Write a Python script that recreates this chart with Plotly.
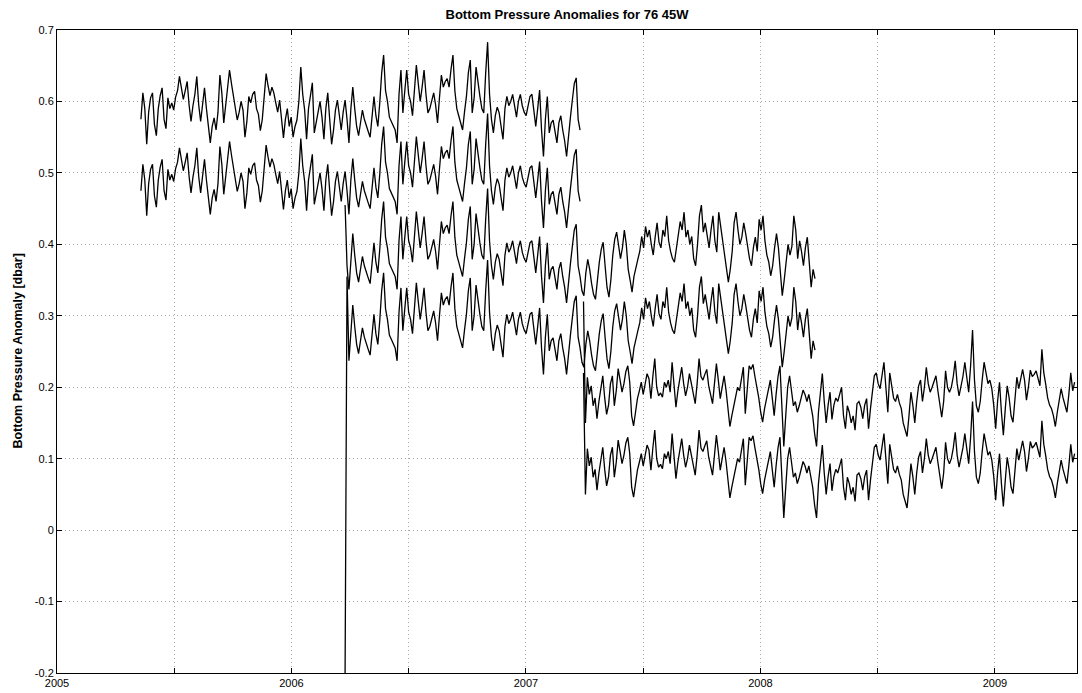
import numpy as np
import plotly.graph_objects as go

# ---------------- data (bottom pressure anomaly, millidbar) ----------------
# Sampling: one value every STEP_DAYS days from each deployment's start (decimal year)
STEP_DAYS = 3
start_A = 2005.358
start_B = 2006.2286
start_C = 2007.2454

dep_A_upper_mdbar = [
    575, 612, 590, 540, 585, 605, 612, 568, 552, 590,
    608, 619, 575, 562, 605, 590, 598, 588, 606, 615,
    635, 618, 603, 615, 628, 595, 572, 594, 610, 635,
    595, 572, 600, 619, 590, 568, 542, 565, 577, 560,
    585, 637, 612, 570, 598, 620, 644, 625, 607, 592,
    574, 585, 600, 588, 550, 572, 607, 598, 610, 614,
    590, 582, 559, 575, 605, 639, 622, 608, 620, 612,
    598, 585, 602, 570, 549, 575, 590, 565, 578, 550,
    565, 574, 600, 648, 610, 588, 547, 590, 612, 626,
    556, 572, 584, 600, 578, 547, 590, 612, 575, 540,
    560, 588, 602, 580, 560, 585, 602, 575, 542, 590,
    620, 590, 565, 552, 570, 588, 575, 565, 558, 550,
    585, 607, 580, 565, 598, 640, 665, 615, 600, 578,
    572, 565, 560, 542, 610, 644, 584, 615, 644, 610,
    600, 580, 610, 651, 625, 600, 620, 644, 610, 584,
    590, 600, 612, 595, 570, 605, 637, 620, 628, 632,
    620, 645, 665, 615, 590, 580, 570, 560, 585, 607,
    640, 658, 584, 605, 648, 625, 607, 590, 584, 640,
    683, 610, 575, 556, 580, 592, 584, 565, 547, 590,
    607, 594, 600, 610, 592, 578, 600, 610, 594, 585,
    580, 595, 607, 610, 590, 565, 590, 616, 560, 523,
    575, 607, 556, 570, 574, 560, 542, 570, 580, 560,
    545, 523, 555, 578, 602, 625, 633, 575, 560,
]
dep_A_lower_mdbar = [
    475, 512, 490, 440, 485, 505, 512, 468, 452, 490,
    508, 519, 475, 462, 505, 490, 498, 488, 506, 515,
    535, 518, 503, 515, 528, 495, 472, 494, 510, 535,
    495, 472, 500, 519, 490, 468, 442, 465, 477, 460,
    485, 537, 512, 470, 498, 520, 544, 525, 507, 492,
    474, 485, 500, 488, 450, 472, 507, 498, 510, 514,
    490, 482, 459, 475, 505, 539, 522, 508, 520, 512,
    498, 485, 502, 470, 449, 475, 490, 465, 478, 450,
    465, 474, 500, 548, 510, 488, 447, 490, 512, 526,
    456, 472, 484, 500, 478, 447, 490, 512, 475, 440,
    460, 488, 502, 480, 460, 485, 502, 475, 442, 490,
    520, 490, 465, 452, 470, 488, 475, 465, 458, 450,
    485, 507, 480, 465, 498, 540, 565, 515, 500, 478,
    472, 465, 460, 442, 510, 544, 484, 515, 544, 510,
    500, 480, 510, 551, 525, 500, 520, 544, 510, 484,
    490, 500, 512, 495, 470, 505, 537, 520, 528, 532,
    520, 545, 565, 515, 490, 480, 470, 460, 485, 507,
    540, 558, 484, 505, 548, 525, 507, 490, 484, 540,
    583, 510, 475, 456, 480, 492, 484, 465, 447, 490,
    507, 494, 500, 510, 492, 478, 500, 510, 494, 485,
    480, 495, 507, 510, 490, 465, 490, 516, 460, 423,
    475, 507, 456, 470, 474, 460, 442, 470, 480, 460,
    445, 423, 455, 478, 502, 525, 533, 475, 460,
]

dep_B_upper_mdbar = [
    455, 370, 337, 385,
    415, 385, 360, 347, 365, 383, 370, 360, 353, 345,
    380, 402, 375, 360, 393, 435, 460, 410, 395, 373,
    367, 360, 355, 337, 405, 439, 379, 410, 439, 405,
    395, 375, 405, 446, 420, 395, 415, 439, 405, 379,
    385, 395, 407, 390, 365, 400, 432, 415, 423, 427,
    415, 440, 460, 410, 385, 375, 365, 355, 380, 402,
    435, 453, 379, 400, 443, 420, 402, 385, 379, 435,
    478, 405, 370, 351, 375, 387, 379, 360, 342, 385,
    402, 389, 395, 405, 387, 373, 395, 405, 389, 380,
    375, 390, 402, 405, 385, 360, 385, 411, 355, 318,
    370, 402, 351, 365, 369, 355, 337, 365, 375, 355,
    340, 318, 350, 373, 397, 420, 428, 370, 355,
    335, 328, 360, 379, 365, 345, 330, 323, 350, 375,
    393, 403, 370, 340, 326, 350, 385, 407, 417, 400,
    380, 395, 420, 400, 365, 350, 333, 355, 365, 379,
    390, 411, 395, 425, 410, 420, 400, 385, 410, 430,
    403, 395, 420, 411, 440, 405, 390, 380, 375, 395,
    410, 432, 420, 445, 410, 420, 400, 411, 380, 370,
    400, 440, 455, 417, 430, 410, 395, 420, 440, 405,
    389, 445, 425, 400, 380, 360, 347, 365, 390, 430,
    445, 420, 400, 410, 430, 415, 395, 380, 370, 395,
    410, 390, 435, 420, 440, 405, 385, 375, 356, 370,
    395, 415, 395, 360, 328, 350, 380, 400, 385, 397,
    440, 420, 380, 405, 390, 370, 395, 410, 375, 340,
    365, 352,
]
dep_B_lower_mdbar = [
    -200, 355, 237, 285,
    315, 285, 260, 247, 265, 283, 270, 260, 253, 245,
    280, 302, 275, 260, 293, 335, 360, 310, 295, 273,
    267, 260, 255, 237, 305, 339, 279, 310, 339, 305,
    295, 275, 305, 346, 320, 295, 315, 339, 305, 279,
    285, 295, 307, 290, 265, 300, 332, 315, 323, 327,
    315, 340, 360, 310, 285, 275, 265, 255, 280, 302,
    335, 353, 279, 300, 343, 320, 302, 285, 279, 335,
    378, 305, 270, 251, 275, 287, 279, 260, 242, 285,
    302, 289, 295, 305, 287, 273, 295, 305, 289, 280,
    275, 290, 302, 305, 285, 260, 285, 311, 255, 218,
    270, 302, 251, 265, 269, 255, 237, 265, 275, 255,
    240, 218, 250, 273, 297, 320, 328, 270, 255,
    235, 228, 260, 279, 265, 245, 230, 223, 250, 275,
    293, 303, 270, 240, 226, 250, 285, 307, 317, 300,
    280, 295, 320, 300, 265, 250, 233, 255, 265, 279,
    290, 311, 295, 325, 310, 320, 300, 285, 310, 330,
    303, 295, 320, 311, 340, 305, 290, 280, 275, 295,
    310, 332, 320, 345, 310, 320, 300, 311, 280, 270,
    300, 340, 355, 317, 330, 310, 295, 320, 340, 305,
    289, 345, 325, 300, 280, 260, 247, 265, 290, 330,
    345, 320, 300, 310, 330, 315, 295, 280, 270, 295,
    310, 290, 335, 320, 340, 305, 285, 275, 256, 270,
    295, 315, 295, 260, 228, 250, 280, 300, 285, 297,
    340, 320, 280, 305, 290, 270, 295, 310, 275, 240,
    265, 252,
]

dep_C_upper_mdbar = [
    320, 150, 214, 190, 202, 174, 185, 156, 180, 200,
    216, 185, 162, 175, 205, 216, 174, 195, 226, 210,
    193, 205, 222, 230, 207, 160, 146, 165, 184, 195,
    207, 190, 205, 219, 212, 184, 215, 240, 200, 188,
    192, 186, 207, 200, 210, 193, 235, 205, 172, 195,
    215, 228, 205, 188, 200, 219, 205, 190, 177, 205,
    240, 215, 210, 218, 225, 202, 190, 177, 205, 233,
    210, 184, 200, 216, 196, 165, 145, 160, 175, 188,
    200, 195, 215, 228, 163, 200, 230, 225, 232, 215,
    202, 185, 165, 151, 170, 184, 195, 210, 185, 160,
    190, 215, 230, 175, 117, 160, 200, 216, 190, 174,
    180, 165, 174, 185, 196, 190, 180, 190, 175, 160,
    135, 117, 165, 190, 219, 180, 150, 175, 193, 155,
    175, 185, 180, 190, 200, 160, 142, 174, 165, 150,
    160, 140, 177, 180, 172, 156, 175, 184, 142, 170,
    195, 216, 220, 205, 198, 215, 235, 200, 165, 220,
    200, 185, 180, 190, 178, 170, 150, 142, 131, 160,
    193, 175, 150, 180, 202, 210, 180, 200, 228, 205,
    193, 200, 208, 216, 195, 175, 158, 180, 223, 200,
    193, 200, 215, 237, 205, 188, 200, 215, 235, 210,
    193, 230, 280, 210, 174, 165, 180, 210, 235, 220,
    205, 210, 198, 175, 142, 180, 207, 165, 133, 170,
    202, 185, 160, 151, 190, 214, 198, 210, 225, 210,
    182, 200, 224, 215, 218, 223, 210, 202, 253, 220,
    204, 185, 175, 170, 160, 145, 165, 180, 198, 185,
    174, 165, 190, 220, 195, 207,
]
dep_C_lower_mdbar = [
    220, 50, 114, 90, 102, 74, 85, 56, 80, 100,
    116, 85, 62, 75, 105, 116, 74, 95, 126, 110,
    93, 105, 122, 130, 107, 60, 46, 65, 84, 95,
    107, 90, 105, 119, 112, 84, 115, 140, 100, 88,
    92, 86, 107, 100, 110, 93, 135, 105, 72, 95,
    115, 128, 105, 88, 100, 119, 105, 90, 77, 105,
    140, 115, 110, 118, 125, 102, 90, 77, 105, 133,
    110, 84, 100, 116, 96, 65, 45, 60, 75, 88,
    100, 95, 115, 128, 63, 100, 130, 125, 132, 115,
    102, 85, 65, 51, 70, 84, 95, 110, 85, 60,
    90, 115, 130, 75, 17, 60, 100, 116, 90, 74,
    80, 65, 74, 85, 96, 90, 80, 90, 75, 60,
    35, 17, 65, 90, 119, 80, 50, 75, 93, 55,
    75, 85, 80, 90, 100, 60, 42, 74, 65, 50,
    60, 40, 77, 80, 72, 56, 75, 84, 42, 70,
    95, 116, 120, 105, 98, 115, 135, 100, 65, 120,
    100, 85, 80, 90, 78, 70, 50, 42, 31, 60,
    93, 75, 50, 80, 102, 110, 80, 100, 128, 105,
    93, 100, 108, 116, 95, 75, 58, 80, 123, 100,
    93, 100, 115, 137, 105, 88, 100, 115, 135, 110,
    93, 130, 180, 110, 74, 65, 80, 110, 135, 120,
    105, 110, 98, 75, 42, 80, 107, 65, 33, 70,
    102, 85, 60, 51, 90, 114, 98, 110, 125, 110,
    82, 100, 124, 115, 118, 123, 110, 102, 153, 120,
    104, 85, 75, 70, 60, 45, 65, 80, 98, 85,
    74, 65, 90, 120, 95, 107,
]

x_tick_values = [2005, 2005.5, 2006, 2006.5, 2007, 2007.5, 2008, 2008.5, 2009]
x_tick_labels = ["2005", "", "2006", "", "2007", "", "2008", "", "2009"]
y_tick_values = [-0.2, -0.1, 0, 0.1, 0.2, 0.3, 0.4, 0.5, 0.6, 0.7]
y_tick_labels = ["-0.2", "-0.1", "0", "0.1", "0.2", "0.3", "0.4", "0.5", "0.6", "0.7"]

title_text = "Bottom Pressure Anomalies for 76 45W"
ylabel_text = "Bottom Pressure Anomaly [dbar]"

# ---------------- figure ----------------
def time_axis(start, n):
    return start + np.arange(n) * STEP_DAYS / 365.25

series = [
    (start_A, dep_A_upper_mdbar),
    (start_A, dep_A_lower_mdbar),
    (start_B, dep_B_upper_mdbar),
    (start_B, dep_B_lower_mdbar),
    (start_C, dep_C_upper_mdbar),
    (start_C, dep_C_lower_mdbar),
]

fig = go.Figure()
for start, vals in series:
    fig.add_trace(go.Scatter(
        x=time_axis(start, len(vals)),
        y=np.array(vals) / 1000.0,
        mode="lines",
        line=dict(color="black", width=1.3),
        hoverinfo="skip",
        showlegend=False,
    ))

font_family = "Liberation Sans, Arial, Helvetica, sans-serif"
axis_common = dict(
    showline=True, linecolor="black", linewidth=1, mirror="allticks",
    ticks="inside", ticklen=5, tickcolor="black", tickwidth=1,
    showgrid=True, gridcolor="#a8a8a8", griddash="1px,3px", gridwidth=1,
    zeroline=False,
    tickfont=dict(family=font_family, size=11, color="black"),
)

fig.update_layout(
    width=1082, height=693,
    margin=dict(l=57, r=4, t=30, b=18),
    paper_bgcolor="white", plot_bgcolor="white",
    font=dict(family=font_family, color="black"),
    title=dict(
        text="<b>" + title_text + "</b>",
        x=0.5, xref="paper", xanchor="center",
        y=1 - 14 / 693, yref="container", yanchor="middle",
        font=dict(size=13, family=font_family, color="black"),
    ),
    xaxis=dict(range=[2005, 2009.35], tickvals=x_tick_values, ticktext=x_tick_labels, **axis_common),
    yaxis=dict(range=[-0.2, 0.7], tickvals=y_tick_values, ticktext=y_tick_labels, **axis_common),
    annotations=[dict(
        text="<b>" + ylabel_text + "</b>",
        xref="paper", yref="paper", x=-40 / 1021, y=0.5,
        xanchor="center", yanchor="middle", textangle=-90, showarrow=False,
        font=dict(size=12.5, family=font_family, color="black"),
    )],
)

fig.write_html(
    "out.html",
    config={"displayModeBar": False},
    post_script="document.body.style.margin='0px';document.body.style.padding='0px';",
)
